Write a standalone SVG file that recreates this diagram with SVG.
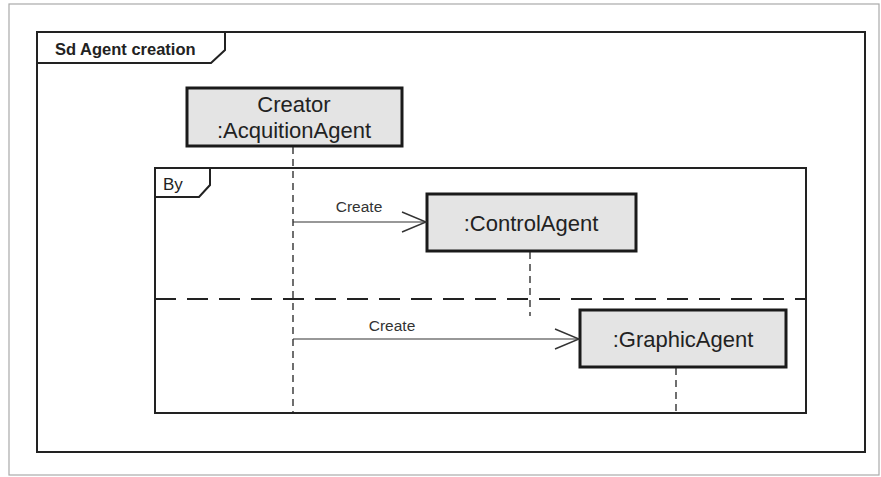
<svg xmlns="http://www.w3.org/2000/svg" width="881" height="477" viewBox="0 0 881 477">
<style>
.frame{fill:none;stroke:#222;stroke-width:2}
.obj{fill:#e4e4e4;stroke:#1a1a1a;stroke-width:3}
.life{fill:none;stroke:#222;stroke-width:1.3;stroke-dasharray:7,5}
.msg{fill:none;stroke:#333;stroke-width:1.2}
.lbl{font-family:"Liberation Sans",Arial,sans-serif;font-size:22px;fill:#222;text-anchor:middle}
.mlbl{font-family:"Liberation Sans",Arial,sans-serif;font-size:15.5px;fill:#333;text-anchor:middle}
</style>
<defs>
<marker id="open" markerWidth="28" markerHeight="22" refX="26" refY="11" orient="auto" markerUnits="userSpaceOnUse">
<path d="M2,1 L26,11 L2,21" fill="none" stroke="#333" stroke-width="1.4"/>
</marker>
</defs>
<rect width="881" height="477" fill="#fff"/>
<rect x="9" y="4" width="870" height="471" fill="none" stroke="#aaa" stroke-width="1.2"/>
<g id="frame-sd">
<rect class="frame" x="37" y="32" width="828" height="420"/>
<path class="frame" d="M37,63 L211,63 L225,50 L225,32"/>
<text x="55" y="55" font-family="'Liberation Sans',Arial,sans-serif" font-size="16.5" font-weight="bold" fill="#222">Sd Agent creation</text>
</g>
<g id="frame-by">
<rect class="frame" x="155" y="168" width="651" height="245"/>
<path class="frame" d="M155,197 L199,197 L210,185 L210,168"/>
<text x="163" y="190" font-family="'Liberation Sans',Arial,sans-serif" font-size="17" fill="#222">By</text>
<line x1="155" y1="299" x2="806" y2="299" stroke="#222" stroke-width="2" stroke-dasharray="21,11"/>
</g>
<g id="creator">
<rect class="obj" x="187" y="88" width="215" height="58"/>
<text class="lbl" x="294" y="112">Creator</text>
<text class="lbl" x="294" y="138">:AcquitionAgent</text>
</g>
<g id="controlagent">
<rect class="obj" x="427" y="194" width="209" height="57"/>
<text class="lbl" x="531" y="231">:ControlAgent</text>
</g>
<g id="graphicagent">
<rect class="obj" x="580" y="310" width="206" height="57"/>
<text class="lbl" x="683" y="347">:GraphicAgent</text>
</g>
<g id="connectors">
<line class="life" x1="293" y1="147" x2="293" y2="413"/>
<line class="life" x1="530" y1="252" x2="530" y2="316"/>
<line class="life" x1="676" y1="368" x2="676" y2="413"/>
<line class="msg" x1="293" y1="222" x2="426" y2="222" marker-end="url(#open)"/>
<text class="mlbl" x="359" y="212">Create</text>
<line class="msg" x1="293" y1="339" x2="579" y2="339" marker-end="url(#open)"/>
<text class="mlbl" x="392" y="331">Create</text>
</g>
</svg>
